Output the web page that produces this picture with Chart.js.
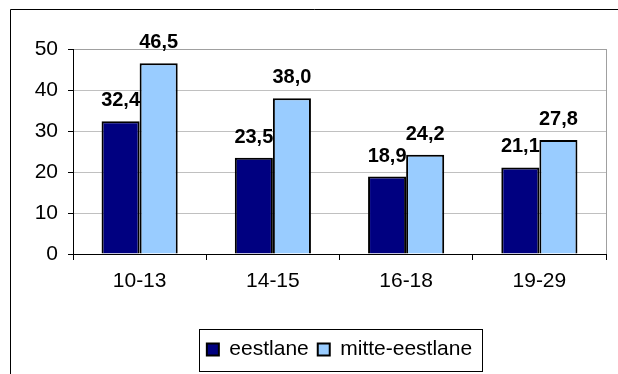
<!DOCTYPE html>
<html lang="et">
<head>
  <meta charset="UTF-8" />
  <title>eestlane / mitte-eestlane</title>
  <script src="https://cdn.jsdelivr.net/npm/chart.js"></script>
  <style>
    body { margin: 0; background: #fff; }
    #wrap { width: 618px; height: 374px; }
  </style>
</head>
<body>
  <div id="wrap"><canvas id="chart" width="618" height="374"></canvas></div>

  <script>
    // andmed
    const ageGroups = ['10-13', '14-15', '16-18', '19-29'];
    const eestlane = [32.4, 23.5, 18.9, 21.1];
    const mitteEestlane = [46.5, 38.0, 24.2, 27.8];
    const yTicks = [0, 10, 20, 30, 40, 50];

    const FONT = "Arial, 'Liberation Sans', sans-serif";

    // outer chart frame (only left + top edges are visible, rest is cropped) and grey plot border
    const frame = {
      id: 'frame',
      beforeDraw(chart) {
        const ctx = chart.ctx;
        ctx.save();
        ctx.strokeStyle = '#000';
        ctx.lineWidth = 1;
        ctx.beginPath();
        ctx.moveTo(10.5, chart.height);
        ctx.lineTo(10.5, 9.5);
        ctx.lineTo(chart.width, 9.5);
        ctx.stroke();
        ctx.restore();
      },
      beforeDatasetsDraw(chart) {
        const ctx = chart.ctx, a = chart.chartArea;
        ctx.save();
        ctx.strokeStyle = '#a0a0a0';
        ctx.lineWidth = 1;
        ctx.beginPath();
        ctx.moveTo(Math.round(a.right) + 0.5, a.top);
        ctx.lineTo(Math.round(a.right) + 0.5, a.bottom);
        ctx.stroke();
        ctx.restore();
      }
    };

    // legend centred under the plot area, with a box round it
    const legendBox = {
      id: 'legendBox',
      afterLayout(chart) {
        const lg = chart.legend;
        lg.left = chart.chartArea.left;
        lg.right = chart.chartArea.right;
      },
      afterDraw(chart) {
        const lg = chart.legend;
        const pad = lg.options.labels.padding;
        const w = lg.lineWidths[0];
        const start = (lg.left + pad + lg.right - w) / 2;
        const end = start + w - pad;
        const mid = lg.top + pad + 10;
        const ctx = chart.ctx;
        ctx.save();
        ctx.strokeStyle = '#000';
        ctx.lineWidth = 1;
        ctx.strokeRect(Math.round(start - 8) + 0.5, Math.round(mid - 20) + 0.5,
                       Math.round(end - start + 18), 42);
        ctx.restore();
      }
    };

    const valueLabels = {
      id: 'valueLabels',
      afterDatasetsDraw(chart) {
        const ctx = chart.ctx;
        ctx.save();
        ctx.font = 'bold 20px ' + FONT;
        ctx.fillStyle = '#000';
        ctx.textAlign = 'center';
        ctx.textBaseline = 'alphabetic';
        chart.data.datasets.forEach((ds, i) => {
          chart.getDatasetMeta(i).data.forEach((bar, j) => {
            ctx.fillText(ds.data[j].toFixed(1).replace('.', ','), bar.x, bar.y - 15);
          });
        });
        ctx.restore();
      }
    };

    new Chart(document.getElementById('chart'), {
      type: 'bar',
      data: {
        labels: ageGroups,
        datasets: [
          {
            label: 'eestlane',
            data: eestlane,
            backgroundColor: '#000080',
            borderColor: '#000',
            borderWidth: 2
          },
          {
            label: 'mitte-eestlane',
            data: mitteEestlane,
            backgroundColor: '#99ccff',
            borderColor: '#000',
            borderWidth: 2
          }
        ]
      },
      options: {
        responsive: false,
        animation: false,
        categoryPercentage: 2 / 3.5,
        barPercentage: 1,
        layout: { padding: { left: 10, top: 49, right: 12, bottom: 4 } },
        plugins: {
          tooltip: { enabled: false },
          legend: {
            position: 'bottom',
            labels: {
              boxWidth: 12,
              boxHeight: 12,
              padding: 9,
              color: '#000',
              font: { family: FONT, size: 21 }
            }
          }
        },
        scales: {
          x: {
            afterFit: s => { s.height = 76; },
            border: { color: '#000' },
            grid: { drawOnChartArea: false, tickLength: 6, tickColor: '#000' },
            ticks: { color: '#000', padding: 9, font: { family: FONT, size: 21 } }
          },
          y: {
            min: yTicks[0],
            max: yTicks[yTicks.length - 1],
            afterFit: s => { s.width = 63; },
            border: { color: '#000' },
            grid: {
              tickLength: 5,
              tickColor: '#000',
              color: c => c.tick.value === 0 ? '#000' : (c.tick.value === yTicks[yTicks.length - 1] ? '#a0a0a0' : '#c0c0c0')
            },
            ticks: {
              stepSize: yTicks[1] - yTicks[0],
              color: '#000',
              padding: 10,
              font: { family: FONT, size: 21 }
            }
          }
        }
      },
      plugins: [frame, legendBox, valueLabels]
    });
  </script>
</body>
</html>
